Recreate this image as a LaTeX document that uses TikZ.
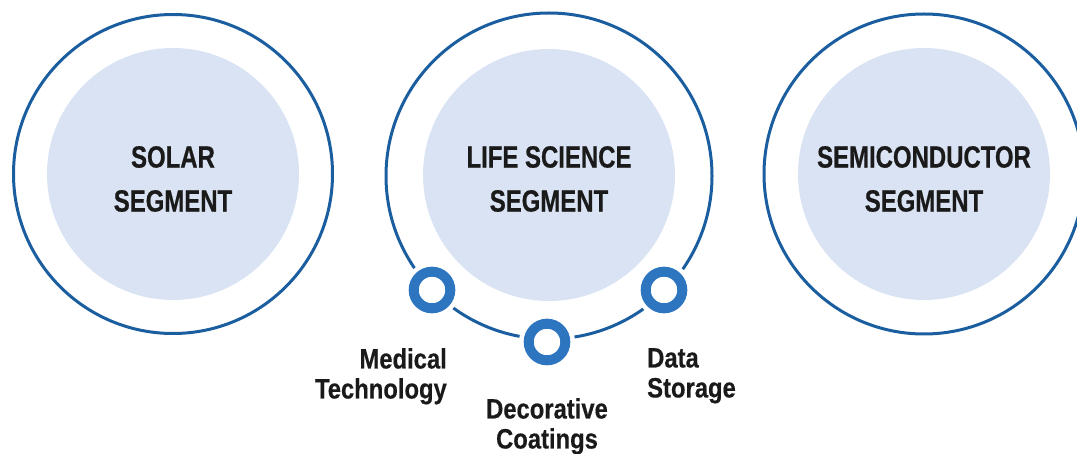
\documentclass[tikz,border=0pt]{standalone}
\usepackage{fontspec}
\newfontfamily\titlefont{Liberation Sans}[FakeStretch=0.78,FakeBold=0.6]
\newfontfamily\labelfont{Liberation Sans}[FakeStretch=0.85,FakeBold=0.4]
\definecolor{ringblue}{RGB}{27,94,160}
\definecolor{dotblue}{RGB}{46,117,192}
\definecolor{innerfill}{RGB}{218,227,243}
\definecolor{txt}{RGB}{26,26,26}
\begin{document}
\begin{tikzpicture}[x=1pt,y=-1pt,
  ring/.style={draw=ringblue,line width=3pt},
  inner/.style={fill=innerfill},
  title/.style={inner sep=0pt,align=center,text=txt,font=\titlefont\bfseries\fontsize{30.7}{44}\selectfont},
  lbl/.style={inner sep=0pt,text=txt,font=\labelfont\bfseries\fontsize{28}{30}\selectfont},
  gapdisc/.style={fill=white,draw=none},
  dot/.style={draw=dotblue,line width=10pt,fill=white}]
\useasboundingbox (0,0) rectangle (1077,454);
% left
\fill[inner] (173,174) circle (126);
\draw[ring] (173,174) circle (159.5);
\node[title] (solar) at (173,179) {SOLAR\\SEGMENT};
% middle
\fill[inner] (549,175) circle (126);
\draw[ring] (549,176) circle (163);
\node[title] (life) at (549,179) {LIFE SCIENCE\\SEGMENT};
% right
\fill[inner] (924,174) circle (126);
\draw[ring] (924,174) circle (160);
\node[title] (semi) at (924,179) {SEMICONDUCTOR\\SEGMENT};
% small dots
\coordinate (dmed) at (432,290);
\coordinate (ddec) at (547,342);
\coordinate (ddat) at (664,290);
\foreach \p in {dmed,ddec,ddat}{
  \fill[gapdisc] (\p) circle (28);
  \draw[dot] (\p) circle (18.3);
}
% labels
\node[lbl,anchor=north east,align=right] (med) at (447,348) {Medical\\Technology};
\node[lbl,anchor=north,align=center] (dec) at (547,398) {Decorative\\Coatings};
\node[lbl,anchor=north west,align=left] (dat) at (647,348) {Data\\Storage};
\end{tikzpicture}
\end{document}
